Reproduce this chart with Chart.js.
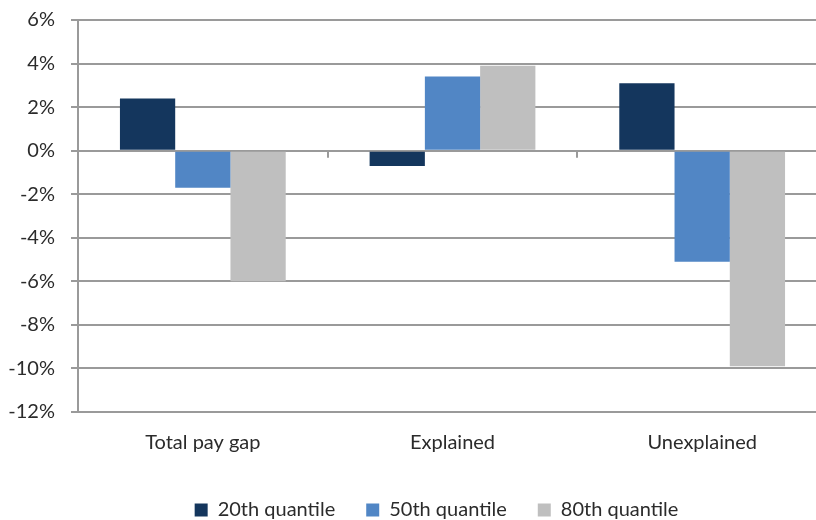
<!DOCTYPE html>
<html>
<head>
<meta charset="utf-8">
<style>
  html, body { margin: 0; padding: 0; background: #ffffff; overflow: hidden; }
  #wrap { width: 873px; height: 530px; }
</style>
<script src="https://cdn.jsdelivr.net/npm/chart.js@4/dist/chart.umd.min.js"></script>
</head>
<body>
<div id="wrap"><canvas id="chart" width="873" height="530"></canvas></div>
<script>
// Pay gap decomposition by wage quantile (percent)
const categories = ['Total pay gap', 'Explained', 'Unexplained'];
const seriesNames = ['20th quantile', '50th quantile', '80th quantile'];
const q20 = [2.4, -0.7, 3.1];
const q50 = [-1.7, 3.4, -5.1];
const q80 = [-6.0, 3.9, -9.9];
const yTicks = [-12, -10, -8, -6, -4, -2, 0, 2, 4, 6];

const colors = ['#14365D', '#5186C5', '#BFBFBF'];
const gridColor = '#9a9a9a';
const textColor = '#2b2b2b';
const fontFamily = 'Lato, "Open Sans", sans-serif';
const fontSize = 20;

// Small tick marks hanging below the zero line at each category boundary
const zeroTicks = {
  id: 'zeroTicks',
  afterDatasetsDraw(chart) {
    const x = chart.scales.x, y = chart.scales.y;
    const y0 = y.getPixelForValue(0);
    const half = (x.getPixelForValue(1) - x.getPixelForValue(0)) / 2;
    const ctx = chart.ctx;
    ctx.save();
    ctx.strokeStyle = gridColor;
    ctx.lineWidth = 2;
    for (let i = 0; i <= categories.length; i++) {
      const px = Math.round(x.getPixelForValue(0) - half + i * 2 * half);
      ctx.beginPath();
      ctx.moveTo(px, y0);
      ctx.lineTo(px, y0 + 7);
      ctx.stroke();
    }
    ctx.restore();
  }
};

new Chart(document.getElementById('chart'), {
  type: 'bar',
  data: {
    labels: categories,
    datasets: [
      { label: seriesNames[0], data: q20, backgroundColor: colors[0] },
      { label: seriesNames[1], data: q50, backgroundColor: colors[1] },
      { label: seriesNames[2], data: q80, backgroundColor: colors[2] }
    ]
  },
  options: {
    responsive: false,
    animation: false,
    devicePixelRatio: 1,
    layout: { padding: { top: 20, right: 0, left: 0, bottom: 0 } },
    datasets: { bar: { categoryPercentage: 0.664, barPercentage: 1.0 } },
    plugins: {
      tooltip: { enabled: false },
      legend: {
        position: 'bottom',
        labels: {
          boxWidth: 13,
          boxHeight: 13,
          padding: 31,
          color: textColor,
          font: { family: fontFamily, size: fontSize }
        }
      }
    },
    scales: {
      x: {
        grid: { display: false, drawTicks: false },
        border: { display: false },
        ticks: { color: textColor, padding: 19, font: { family: fontFamily, size: fontSize } },
        afterFit(scale) { scale.height = 57; }
      },
      y: {
        min: -12,
        max: 6,
        afterBuildTicks(scale) { scale.ticks = yTicks.map(v => ({ value: v })); },
        grid: { color: gridColor, lineWidth: 2, tickLength: 7, tickColor: gridColor },
        border: { display: true, color: gridColor, width: 2 },
        ticks: {
          color: textColor,
          padding: 16,
          font: { family: fontFamily, size: fontSize },
          callback: v => v + '%'
        },
        afterFit(scale) {
          scale.width = 78;
          scale.paddingTop = 12;
          scale.paddingBottom = 12;
        }
      },
      // empty right-hand margin beside the plot
      yRight: {
        position: 'right',
        grid: { display: false, drawTicks: false },
        border: { display: false },
        ticks: { display: false },
        afterFit(scale) { scale.width = 46; }
      }
    }
  },
  plugins: [zeroTicks]
});
</script>
</body>
</html>
